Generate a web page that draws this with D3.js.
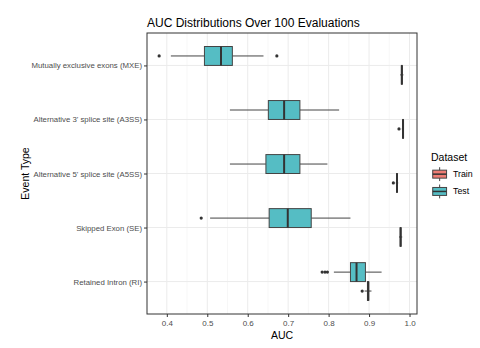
<!DOCTYPE html>
<html>
<head>
<meta charset="utf-8">
<script src="https://cdn.jsdelivr.net/npm/d3@7"></script>
<style>
  body { margin: 0; background: #fff; }
  svg { font-family: "Liberation Sans", Arial, sans-serif; }
</style>
</head>
<body>
<div id="chart"></div>
<script>
// Categorias (de cima para baixo)
var categories = [
  "Mutually exclusive exons (MXE)",
  "Alternative 3' splice site (A3SS)",
  "Alternative 5' splice site (A5SS)",
  "Skipped Exon (SE)",
  "Retained Intron (RI)"
];

// Estatísticas das caixas: [min bigode, Q1, mediana, Q3, max bigode]
var testStats = [
  [0.410, 0.493, 0.534, 0.562, 0.639],
  [0.556, 0.651, 0.690, 0.729, 0.826],
  [0.556, 0.645, 0.690, 0.729, 0.797],
  [0.507, 0.653, 0.699, 0.757, 0.854],
  [0.813, 0.854, 0.869, 0.891, 0.931]
];
var testOutliers = [
  [0.381, 0.672],
  [],
  [],
  [0.485],
  [0.784, 0.791, 0.797]
];

var trainStats = [
  [0.977, 0.980, 0.981, 0.982, 0.985],
  [0.981, 0.983, 0.984, 0.985, 0.986],
  [0.966, 0.968, 0.969, 0.970, 0.972],
  [0.974, 0.977, 0.978, 0.979, 0.982],
  [0.889, 0.896, 0.898, 0.899, 0.906]
];
var trainOutliers = [
  [],
  [0.974],
  [0.960],
  [],
  [0.883]
];

var xTicks = [0.4, 0.5, 0.6, 0.7, 0.8, 0.9, 1.0];
var xMinor = [0.35, 0.45, 0.55, 0.65, 0.75, 0.85, 0.95];
var groups = ["Train", "Test"];
var colors = { Train: "#EE7C73", Test: "#55BDC4" };

var W = 480, H = 348;
var panel = { left: 147, right: 417, top: 33, bottom: 314 };

var svg = d3.select("#chart").append("svg")
  .attr("width", W).attr("height", H);

var x = d3.scaleLinear().domain([0.351, 1.0185]).range([panel.left, panel.right]);
var y = d3.scalePoint().domain(categories).range([panel.top, panel.bottom]).padding(0.6);
var step = y.step();
var dodge = 0.175 * step;
var boxH = 0.35 * step;

// grade
var grid = svg.append("g");
grid.selectAll("line.minor").data(xMinor.filter(function (d) { return x(d) > panel.left + 1 && x(d) < panel.right; }))
  .enter().append("line")
  .attr("x1", function (d) { return x(d); }).attr("x2", function (d) { return x(d); })
  .attr("y1", panel.top).attr("y2", panel.bottom)
  .attr("stroke", "#F2F2F2").attr("stroke-width", 0.6);
grid.selectAll("line.vmajor").data(xTicks)
  .enter().append("line")
  .attr("x1", function (d) { return x(d); }).attr("x2", function (d) { return x(d); })
  .attr("y1", panel.top).attr("y2", panel.bottom)
  .attr("stroke", "#EBEBEB").attr("stroke-width", 1);
grid.selectAll("line.hmajor").data(categories)
  .enter().append("line")
  .attr("x1", panel.left).attr("x2", panel.right)
  .attr("y1", function (d) { return y(d); }).attr("y2", function (d) { return y(d); })
  .attr("stroke", "#EBEBEB").attr("stroke-width", 1);

// caixas
var drawBox = function (stats, outliers, group, offset) {
  var g = svg.append("g");
  categories.forEach(function (cat, i) {
    var s = stats[i];
    var cy = y(cat) + offset;
    g.append("line")
      .attr("x1", x(s[0])).attr("x2", x(s[1]))
      .attr("y1", cy).attr("y2", cy)
      .attr("stroke", "#444").attr("stroke-width", 1);
    g.append("line")
      .attr("x1", x(s[3])).attr("x2", x(s[4]))
      .attr("y1", cy).attr("y2", cy)
      .attr("stroke", "#444").attr("stroke-width", 1);
    g.append("rect")
      .attr("x", x(s[1])).attr("y", cy - boxH / 2)
      .attr("width", Math.max(x(s[3]) - x(s[1]), 0.5))
      .attr("height", boxH)
      .attr("fill", colors[group])
      .attr("stroke", "#444").attr("stroke-width", 1);
    g.append("line")
      .attr("x1", x(s[2])).attr("x2", x(s[2]))
      .attr("y1", cy - boxH / 2).attr("y2", cy + boxH / 2)
      .attr("stroke", "#333").attr("stroke-width", 2);
    g.selectAll(null).data(outliers[i]).enter().append("circle")
      .attr("cx", function (d) { return x(d); })
      .attr("cy", cy)
      .attr("r", 1.6)
      .attr("fill", "#333");
  });
};
drawBox(testStats, testOutliers, "Test", -dodge);
drawBox(trainStats, trainOutliers, "Train", dodge);

// borda do painel
svg.append("rect")
  .attr("x", panel.left).attr("y", panel.top)
  .attr("width", panel.right - panel.left).attr("height", panel.bottom - panel.top)
  .attr("fill", "none").attr("stroke", "#333").attr("stroke-width", 1);

// eixo x
var xAxis = svg.append("g")
  .attr("transform", "translate(0," + panel.bottom + ")")
  .call(d3.axisBottom(x).tickValues(xTicks).tickSize(3).tickPadding(3).tickFormat(d3.format(".1f")));
xAxis.select(".domain").remove();
xAxis.selectAll("line").attr("stroke", "#333");
xAxis.selectAll("text").attr("fill", "#4D4D4D").style("font-size", "8px")
  .style("font-family", "Liberation Sans, Arial, sans-serif");

// eixo y
var yAxis = svg.append("g")
  .attr("transform", "translate(" + panel.left + ",0)")
  .call(d3.axisLeft(y).tickSize(3).tickPadding(2));
yAxis.select(".domain").remove();
yAxis.selectAll("line").attr("stroke", "#333");
yAxis.selectAll("text").attr("fill", "#4D4D4D").style("font-size", "7.8px")
  .style("font-family", "Liberation Sans, Arial, sans-serif");

// títulos
svg.append("text")
  .attr("x", panel.left).attr("y", 26.5)
  .style("font-size", "12px").attr("fill", "#000")
  .text("AUC Distributions Over 100 Evaluations");
svg.append("text")
  .attr("x", (panel.left + panel.right) / 2).attr("y", 339)
  .attr("text-anchor", "middle").style("font-size", "10.5px")
  .text("AUC");
svg.append("text")
  .attr("transform", "translate(29," + ((panel.top + panel.bottom) / 2) + ") rotate(-90)")
  .attr("text-anchor", "middle").style("font-size", "10.5px")
  .text("Event Type");

// legenda
var legend = svg.append("g").attr("transform", "translate(431,0)");
legend.append("text").attr("x", 0).attr("y", 161).style("font-size", "10.5px").text("Dataset");
var keySize = 17.3;
var keyTop = [165.5, 182.8];
groups.forEach(function (grp, i) {
  var k = legend.append("g").attr("transform", "translate(0," + keyTop[i] + ")");
  var c = keySize / 2;
  k.append("line").attr("x1", c).attr("x2", c).attr("y1", keySize * 0.1).attr("y2", keySize * 0.9)
    .attr("stroke", "#444").attr("stroke-width", 1);
  k.append("rect").attr("x", keySize * 0.1).attr("y", keySize * 0.27)
    .attr("width", keySize * 0.8).attr("height", keySize * 0.46)
    .attr("fill", colors[grp]).attr("stroke", "#444").attr("stroke-width", 1);
  k.append("line").attr("x1", keySize * 0.1).attr("x2", keySize * 0.9).attr("y1", c).attr("y2", c)
    .attr("stroke", "#333").attr("stroke-width", 1.5);
  legend.append("text").attr("x", 22).attr("y", keyTop[i] + c + 3)
    .style("font-size", "8.8px").attr("fill", "#000").text(grp);
});
</script>
</body>
</html>
